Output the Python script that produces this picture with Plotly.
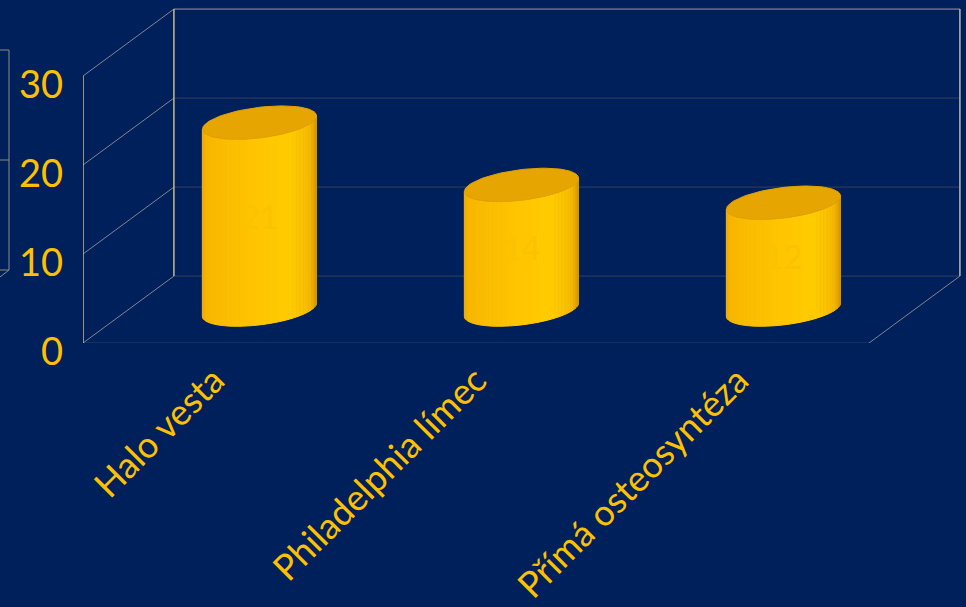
import numpy as np
import plotly.graph_objects as go

# ---- data ----
categories = ["Halo vesta", "Philadelphia límec", "Přímá osteosyntéza"]
values = [21, 14, 12]
y_ticks = [0, 10, 20, 30]

# ---- style ----
BG = "#00205B"
GOLD = "#FFC000"
FONT = "Lato"

# oblique projection of (category, value, depth 0..1) into the 2D axes
DX, DY = 0.347, 7.52
def P(c, v, d):
    return c + DX * d, v + DY * d

fig = go.Figure()

def seg(p0, p1, color, width=1):
    fig.add_trace(go.Scatter(x=[p0[0], p1[0]], y=[p0[1], p1[1]], mode="lines",
                             line=dict(color=color, width=width),
                             hoverinfo="skip", showlegend=False))

ymax = y_ticks[-1]
c0, c1 = -0.5, len(categories) - 0.5
TAN = "#C8B888"
GRAY = "#7F8490"
DARK = "#333F5C"

# back wall gridlines
for v in y_ticks[:-1]:
    seg(P(c0, v, 1), P(c1, v, 1), DARK)
seg(P(c0, ymax, 1), P(c1, ymax, 1), "#9A9A90")
# floor front edge
seg(P(c0, 0, 0), P(c1, 0, 0), DARK)
# side wall diagonals
for v in y_ticks:
    seg(P(c0, v, 0), P(c0, v, 1), GRAY)
seg(P(c1, 0, 0), P(c1, 0, 1), GRAY)
# verticals
seg(P(c0, 0, 0), P(c0, ymax, 0), TAN, 1.5)
seg(P(c0, 0, 1), P(c0, ymax, 1), TAN, 1.5)
seg(P(c1, 0, 1), P(c1, ymax, 1), "#B8B8B0", 1.5)

# ---- cylinders ----
R = 0.2      # radius across (category units)
S = 0.25     # radius in depth (fraction of depth)
stops = [(0.0, (0xEA, 0xA6, 0x00)), (0.12, (0xF8, 0xB6, 0x00)), (0.45, (0xFF, 0xC4, 0x00)),
         (0.68, (0xFF, 0xCC, 0x00)), (0.84, (0xF6, 0xBA, 0x00)), (0.93, (0xE0, 0xA0, 0x00)),
         (1.0, (0xD2, 0x94, 0x00))]
def grad(f):
    for (f0, a), (f1, b) in zip(stops[:-1], stops[1:]):
        if f <= f1:
            t = (f - f0) / (f1 - f0)
            return "rgb(%d,%d,%d)" % tuple(int(a[k] + (b[k] - a[k]) * t) for k in range(3))
    return "rgb(%d,%d,%d)" % stops[-1][1]

def ell(c, v, th):
    d = 0.5 + S * np.sin(th)
    x, y = P(c, v, d)
    return x + R * np.cos(th), y

th0 = np.arctan2(DX * S, R)
N = 36
for i, (cat, val) in enumerate(zip(categories, values)):
    ths = np.linspace(th0 + np.pi, th0 + 2 * np.pi, N + 1)
    for k in range(N):
        t = np.linspace(ths[k], ths[k + 1], 4)
        bx, by = ell(i, 0, t)
        tx, ty = ell(i, val, t[::-1])
        col = grad((k + 0.5) / N)
        fig.add_trace(go.Scatter(x=np.r_[bx, tx, bx[:1]], y=np.r_[by, ty, by[:1]],
                                 mode="lines", fill="toself", fillcolor=col,
                                 line=dict(color=col, width=1),
                                 hoverinfo="skip", showlegend=False))
    t = np.linspace(0, 2 * np.pi, 90)
    ex, ey = ell(i, val, t)
    fig.add_trace(go.Scatter(x=ex, y=ey, mode="lines", fill="toself", fillcolor="#E6A500",
                             line=dict(color="#E2A200", width=1),
                             hoverinfo="skip", showlegend=False))
    lx, ly = P(i, val / 2, 0.5)
    fig.add_annotation(x=lx, y=ly, text=str(val), showarrow=False,
                       font=dict(family=FONT, size=32, color="#FAC200"))

# fragment of a neighbouring frame at the far left edge
px = lambda p: (p - 83) / 883
py = lambda p: (343 - p) / 343
frag = dict(type="line", xref="paper", yref="paper", line=dict(color="#8C8C88", width=1))
fig.add_shape(x0=px(9), x1=px(9), y0=py(50), y1=py(270), **frag)
for yy in (50, 160, 270):
    fig.add_shape(x0=px(0), x1=px(9), y0=py(yy), y1=py(yy), **frag)
fig.add_shape(x0=px(9), x1=px(0), y0=py(270), y1=py(277), **frag)

fig.update_layout(
    width=966, height=607,
    margin=dict(l=83, r=0, t=0, b=264),
    paper_bgcolor=BG, plot_bgcolor=BG,
    showlegend=False,
    xaxis=dict(range=[-0.5, (966 - 214) / 262], showgrid=False, zeroline=False, showline=False,
               tickvals=list(range(len(categories))), ticktext=categories, tickangle=-45,
               tickfont=dict(family=FONT, size=36, color=GOLD), ticks="", ticklabelstandoff=8),
    yaxis=dict(range=[0, 343 / 8.9], showgrid=False, zeroline=False, showline=False,
               tickvals=y_ticks, ticks="", tickfont=dict(family=FONT, size=38, color=GOLD),
               ticklabelstandoff=19, ticklabelshift=9),
)
fig.write_html("out.html", config={"displayModeBar": False},
               post_script="document.body.style.margin='0';document.body.style.background='%s';" % BG)
